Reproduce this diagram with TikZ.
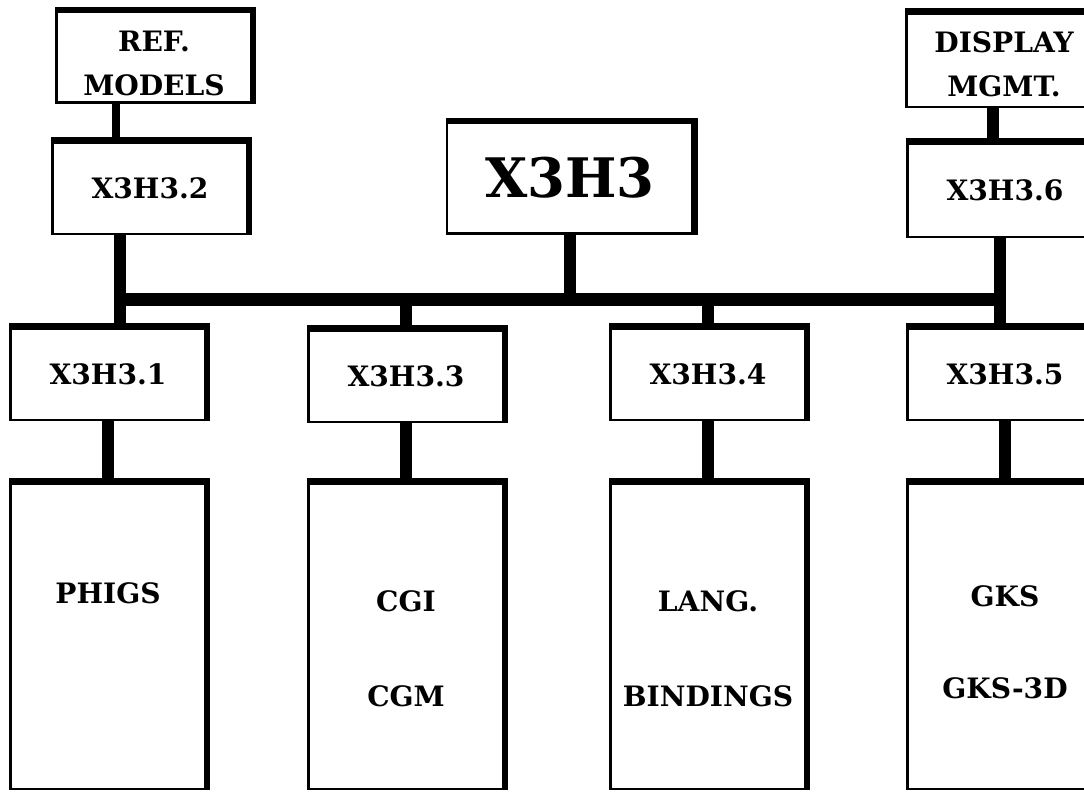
\documentclass[tikz,border=0pt]{standalone}
\usepackage{fontspec}
\setmainfont{DejaVu Serif}
\usetikzlibrary{calc}

\begin{document}
\begin{tikzpicture}[x=0.02cm,y=-0.02cm,
    box/.style={draw,line width=1.6pt,fill=white,minimum width=3.9cm,minimum height=1.84cm,
      align=center,inner sep=0pt,font=\bfseries\fontsize{16}{25}\selectfont},
    tall/.style={box,minimum height=6.12cm,font=\bfseries\fontsize{16}{19}\selectfont},
    bar/.style={line width=6.8pt},
    edge/.style={line width=3.6pt,line join=miter}]
  \useasboundingbox (0,0) rectangle (1084,792);
  \clip (0,0) rectangle (1084,792);

  % top row
  \node[box,minimum height=1.82cm] (refm) at (154,57) {\\[-6pt]REF.\\MODELS};
  \node[box] (x32) at (150,188) {X3H3.2};
  \node[box,minimum width=4.92cm,minimum height=2.22cm,
        font=\bfseries\fontsize{31}{36}\selectfont] (x3) at (570,178) {X3H3};
  \node[box,minimum height=1.88cm] (disp) at (1004,60) {\\[-8pt]DISPLAY\\MGMT.};
  \node[box,minimum height=1.88cm] (x36) at (1005,190) {X3H3.6};

  % middle row
  \node[box] (x31) at (108,374) {X3H3.1};
  \node[box] (x33) at (406,376) {X3H3.3};
  \node[box] (x34) at (708,374) {X3H3.4};
  \node[box] (x35) at (1005,374) {X3H3.5};

  % standards
  \node[tall] (phigs) at (108,636) {PHIGS\\[30pt]\phantom{PHIGS}};
  \node[tall] (cgi) at (406,636) {\\[7.5pt]CGI\\[35pt]CGM};
  \node[tall] (lang) at (708,636) {\\[7.5pt]LANG.\\[35pt]BINDINGS};
  \node[tall] (gks) at (1005,636) {\\[0pt]GKS\\[33pt]GKS-3D};

  % heavy top and right edges
  \foreach \n in {refm,x32,x3,disp,x36,x31,x33,x34,x35,phigs,cgi,lang,gks}
    \draw[edge] (\n.north west) -- (\n.north east) -- (\n.south east);

  % bus
  \coordinate (trunkL) at (120,299);
  \coordinate (trunkR) at (1000,299);
  \draw[line width=7.4pt] (trunkL) -- (trunkR);
  \draw[line width=5pt] ($(refm.south -| trunkL)+(-4,0)$) -- ($(x32.north -| trunkL)+(-4,0)$);
  \draw[bar] (x32.south -| trunkL) -- (x31.north -| trunkL);
  \draw[bar] ($(disp.south -| trunkR)+(-7,0)$) -- ($(x36.north -| trunkR)+(-7,0)$);
  \draw[bar] (x36.south -| trunkR) -- (x35.north -| trunkR);
  \draw[bar] (x3.south) -- (x3.south |- trunkL);
  \draw[bar] (x33.north) -- (x33.north |- trunkL);
  \draw[bar] (x34.north) -- (x34.north |- trunkL);

  % down to the standards
  \draw[bar] (x31.south) -- (phigs.north);
  \draw[bar] (x33.south) -- (cgi.north);
  \draw[bar] (x34.south) -- (lang.north);
  \draw[bar] (x35.south) -- (gks.north);
\end{tikzpicture}
\end{document}
